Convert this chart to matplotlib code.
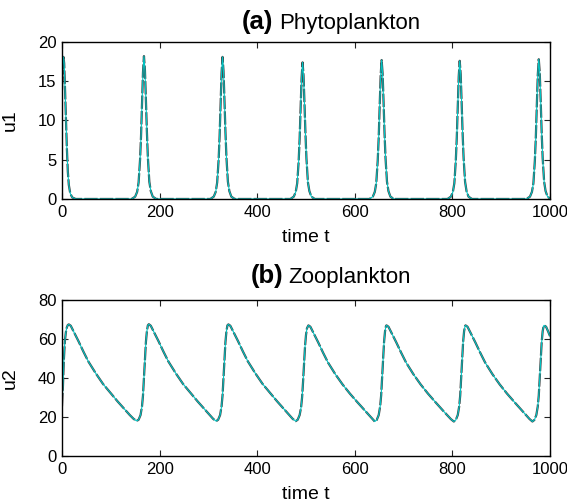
import numpy as np
import matplotlib
matplotlib.use('Agg')
import matplotlib.pyplot as plt

plt.rcParams['font.family'] = ['Liberation Sans', 'DejaVu Sans']

# (a) phytoplankton u1
t_u1 = [0, 1.5, 3, 4.5, 6, 8, 10, 12, 14, 17, 21, 28,
        143, 150, 154, 157, 160, 162, 164, 166, 168, 170, 172, 174, 176, 179, 182, 186, 193,
        304, 311, 315, 318, 321, 323, 325, 327, 329, 331, 333, 335, 337, 340, 343, 347, 354,
        468, 475, 479, 482, 485, 487, 489, 491, 493, 495, 497, 499, 501, 504, 507, 511, 518,
        630, 637, 641, 644, 647, 649, 651, 653, 655, 657, 659, 661, 663, 666, 669, 673, 680,
        790, 797, 801, 804, 807, 809, 811, 813, 815, 817, 819, 821, 823, 826, 829, 833, 840,
        952, 959, 963, 966, 969, 971, 973, 975, 977, 979, 981, 983, 985, 988, 991, 995, 1000]
u1 = [13.9, 17.0, 18.1, 17.3, 14.5, 10.5, 6.5, 3.5, 1.8, 0.7, 0.2, 0,
      0, 0.3, 0.9, 2.1, 5.0, 8.0, 12.1, 16.1, 18.2, 16.4, 12.6, 8.6, 5.3, 2.2, 1.0, 0.3, 0,
      0, 0.3, 0.9, 2.1, 5.0, 8.0, 12.0, 16.0, 18.1, 16.3, 12.5, 8.5, 5.3, 2.2, 1.0, 0.3, 0,
      0, 0.3, 0.9, 2.0, 4.8, 7.7, 11.6, 15.4, 17.4, 15.7, 12.0, 8.2, 5.1, 2.1, 1.0, 0.3, 0,
      0, 0.3, 0.9, 2.0, 4.9, 7.8, 11.8, 15.7, 17.7, 16.0, 12.3, 8.3, 5.2, 2.2, 1.0, 0.3, 0,
      0, 0.3, 0.9, 2.0, 4.9, 7.8, 11.7, 15.6, 17.6, 15.9, 12.2, 8.3, 5.2, 2.2, 1.0, 0.3, 0,
      0, 0.3, 0.9, 2.0, 4.9, 7.9, 11.9, 15.8, 17.8, 16.1, 12.4, 8.4, 5.2, 2.2, 1.0, 0.3, 0.05]

# (b) zooplankton u2
t_u2 = [0, 2, 4, 6, 8, 10, 12, 14,
        18, 24, 34, 44, 54, 69, 84, 99, 114, 129, 139, 147, 153,
        157, 161, 164, 166, 168, 170, 172, 174, 176, 178,
        182, 188, 198, 208, 218, 233, 248, 263, 278, 293, 303, 310, 316,
        320, 324, 327, 329, 331, 333, 335, 337, 339, 341,
        345, 351, 361, 371, 381, 396, 411, 426, 441, 456, 466, 473, 479,
        483, 487, 490, 492, 494, 496, 498, 500, 502, 505,
        509, 515, 525, 535, 545, 560, 575, 590, 605, 620, 629, 636, 641,
        645, 649, 652, 654, 656, 658, 660, 662, 664, 665,
        669, 675, 685, 695, 705, 720, 735, 750, 765, 780, 790, 797, 803,
        807, 811, 814, 816, 818, 820, 822, 824, 826, 827,
        831, 837, 847, 857, 867, 882, 897, 912, 927, 942, 951, 958, 964,
        968, 972, 975, 977, 979, 981, 983, 985, 987, 988,
        992, 996, 1000]
u2 = [25.5, 36, 50, 59, 63.5, 66, 67.2, 67.5,
      66.8, 63.8, 58.8, 53.5, 48.5, 42.5, 37, 32.5, 28, 23.8, 21, 19, 18,
      18.6, 21, 25.5, 31, 40, 50, 58.5, 64, 67, 67.6,
      66.8, 63.8, 58.8, 53.5, 48.5, 42.5, 37, 32.5, 28, 23.8, 21, 19, 17.9,
      18.6, 21, 25.5, 31, 40, 50, 58.5, 64, 67, 67.5,
      66.8, 63.8, 58.8, 53.5, 48.5, 42.5, 37, 32.5, 28, 23.8, 21, 19, 17.9,
      18.6, 21, 25, 30, 38, 47.5, 56, 62, 65.5, 67,
      66.3, 63.3, 58.3, 53, 48, 42, 36.7, 32, 27.7, 23.5, 21, 19, 17.7,
      18.5, 21, 25.5, 31, 40, 50, 58.5, 64, 66.7, 67,
      66.3, 63.3, 58.3, 53, 48, 42, 36.7, 32, 27.7, 23.5, 20.8, 18.9, 17.7,
      18.5, 21, 25.5, 31, 40, 50, 58.5, 64, 66.7, 67,
      66.3, 63.3, 58.3, 53, 48, 42, 36.7, 32, 27.7, 23.5, 21, 19, 17.7,
      18.5, 21, 25.5, 31, 40, 50, 58.5, 64, 66.7, 67,
      66.3, 64, 61.5]

fig = plt.figure(figsize=(5.67, 5.04), dpi=100)
ax1 = fig.add_axes([0.1093, 0.6052, 0.8607, 0.3115])
ax2 = fig.add_axes([0.1093, 0.0952, 0.8607, 0.3095])

for ax, t, u, ymax, yt, lab in [(ax1, t_u1, u1, 20, [0, 5, 10, 15, 20], 'u1'),
                                (ax2, t_u2, u2, 80, [0, 20, 40, 60, 80], 'u2')]:
    ax.plot(t, u, color='#454545', linewidth=1.6, linestyle=(0, (6, 1)))
    ax.plot(t, u, color='#00c4c4', linewidth=0.8)
    ax.set_xlim(0, 1000)
    ax.set_ylim(0, ymax)
    ax.set_xticks([0, 200, 400, 600, 800, 1000])
    ax.set_yticks(yt)
    ax.tick_params(direction='in', length=4, width=0.8, top=True, right=True,
                   labelsize=12, pad=4, colors='#222222', labelcolor='black')
    for s in ax.spines.values():
        s.set_linewidth(1.0)
    ax.set_xlabel('time t', fontsize=14)
    ax.set_ylabel(lab, fontsize=14)
    ax.xaxis.set_label_coords(0.5, -0.19)

ax1.yaxis.set_label_coords(-0.088, 0.5)
ax2.yaxis.set_label_coords(-0.088, 0.5)

fig.text(273 / 567, 1 - 29.5 / 504, '(a)', fontsize=18.5, fontweight='bold', ha='right', va='baseline')
fig.text(279 / 567, 1 - 29.5 / 504, 'Phytoplankton', fontsize=16, ha='left', va='baseline')
fig.text(283 / 567, 1 - 283.5 / 504, '(b)', fontsize=18.5, fontweight='bold', ha='right', va='baseline')
fig.text(288 / 567, 1 - 283.5 / 504, 'Zooplankton', fontsize=16, ha='left', va='baseline')

plt.savefig('out.png', dpi=100)
